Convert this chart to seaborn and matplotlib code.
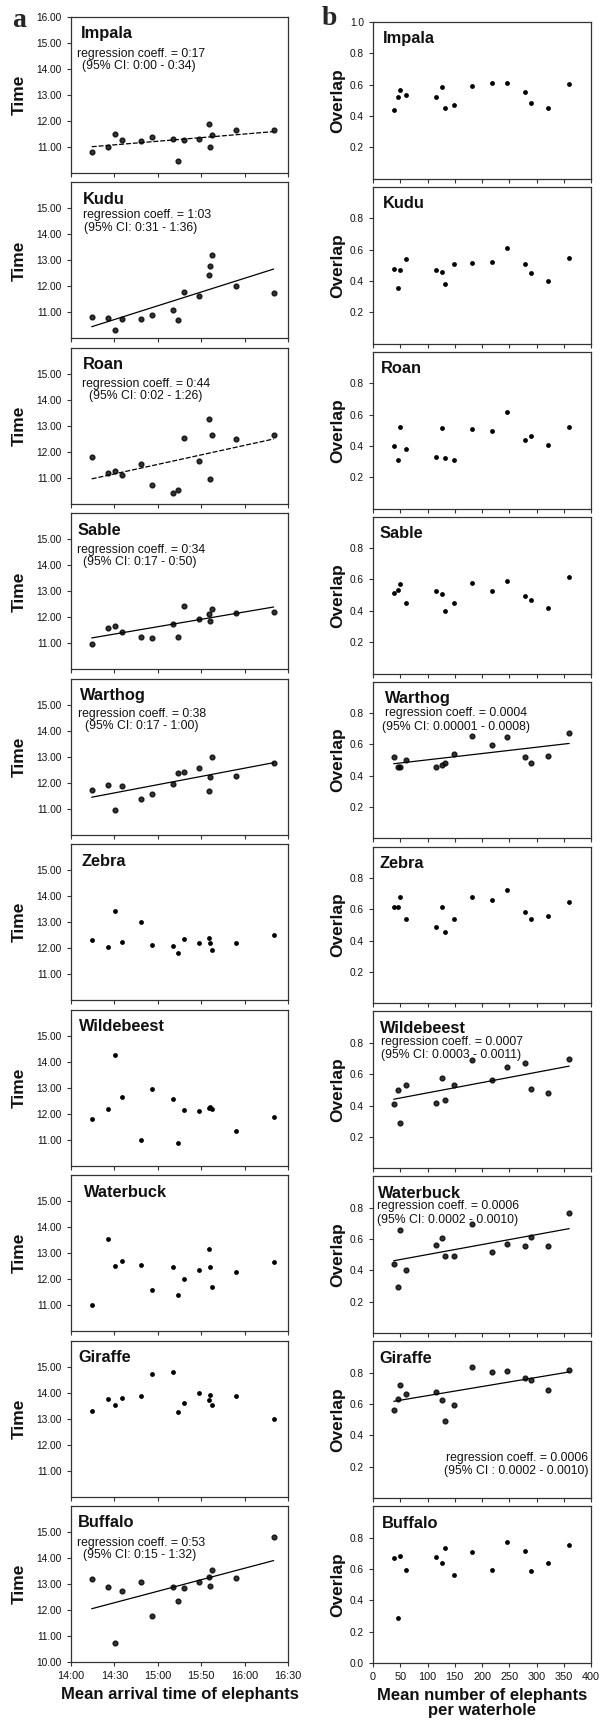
"""Arrival time and overlap of ten ungulate species vs elephant activity at waterholes."""
import matplotlib
matplotlib.use("Agg")

import matplotlib.pyplot as plt
import pandas as pd
import seaborn as sns

SPECIES = ["Impala", "Kudu", "Roan", "Sable", "Warthog",
           "Zebra", "Wildebeest", "Waterbuck", "Giraffe", "Buffalo"]

# mean elephant arrival per waterhole, minutes after 14:00
ARRIVAL_MIN = [14.3, 25.3, 30.4, 35.3, 48.4, 56.2, 70.5, 74.2,
               78.3, 88.5, 95.2, 96.1, 97.5, 114.3, 140.1]
ARRIVAL_TICKS = [0, 30, 60, 90, 120, 150]
ARRIVAL_LABELS = ["14:00", "14:30", "15:00", "15:50", "16:00", "16:30"]

# mean number of elephants per waterhole (same waterholes, same order)
ELEPHANTS = [38, 45, 50, 60, 116, 126, 133, 148,
             182, 219, 246, 279, 290, 322, 360]

# panel a: mean arrival time of each species (hours)
impala_time = [10.80, 11.00, 11.48, 11.27, 11.22, 11.39, 11.29, 10.45,
               11.25, 11.29, 11.87, 10.99, 11.45, 11.66, 11.65]
kudu_time = [10.82, 10.77, 10.32, 10.73, 10.76, 10.90, 11.09, 10.69,
             11.78, 11.65, 12.43, 12.80, 13.22, 12.02, 11.75]
roan_time = [11.81, 11.19, 11.28, 11.10, 11.55, 10.72, 10.42, 10.53,
             12.55, 11.64, 13.28, 10.95, 12.63, 12.50, 12.63]
sable_time = [10.99, 11.58, 11.67, 11.44, 11.23, 11.19, 11.74, 11.23,
              12.44, 11.94, 12.13, 11.86, 12.31, 12.17, 12.22]
warthog_time = [11.73, 11.90, 10.97, 11.88, 11.37, 11.56, 11.94, 12.36,
                12.43, 12.57, 11.68, 12.24, 13.00, 12.25, 12.76]
zebra_time = [12.31, 12.06, 13.44, 12.22, 13.00, 12.13, 12.08, 11.83,
              12.37, 12.21, 12.38, 12.21, 11.95, 12.21, 12.50]
wildebeest_time = [11.81, 12.18, 14.26, 12.63, 10.97, 12.95, 12.56, 10.86,
                   12.13, 12.09, 12.22, 12.24, 12.18, 11.33, 11.86]
waterbuck_time = [10.99, 13.55, 12.51, 12.70, 12.56, 11.57, 12.46, 11.38,
                  12.01, 12.34, 13.17, 12.46, 11.68, 12.28, 12.67]
giraffe_time = [13.29, 13.75, 13.54, 13.79, 13.85, 14.70, 14.81, 13.24,
                13.60, 13.97, 13.71, 13.92, 13.54, 13.86, 12.99]
buffalo_time = [13.21, 12.88, 10.72, 12.74, 13.06, 11.77, 12.89, 12.33,
                12.84, 13.06, 13.28, 12.91, 13.53, 13.25, 14.80]

# panel b: temporal overlap with elephants
impala_overlap = [0.439, 0.524, 0.566, 0.536, 0.519, 0.587, 0.449, 0.469,
                  0.589, 0.608, 0.608, 0.555, 0.483, 0.449, 0.604]
kudu_overlap = [0.477, 0.354, 0.473, 0.543, 0.469, 0.460, 0.382, 0.509,
                0.515, 0.519, 0.611, 0.509, 0.452, 0.403, 0.549]
roan_overlap = [0.398, 0.309, 0.522, 0.377, 0.328, 0.512, 0.324, 0.312,
                0.505, 0.493, 0.619, 0.440, 0.461, 0.408, 0.518]
sable_overlap = [0.512, 0.535, 0.571, 0.451, 0.526, 0.507, 0.400, 0.451,
                 0.577, 0.528, 0.592, 0.493, 0.469, 0.419, 0.615]
warthog_overlap = [0.520, 0.455, 0.457, 0.499, 0.455, 0.467, 0.480, 0.541,
                   0.653, 0.594, 0.648, 0.518, 0.478, 0.528, 0.674]
zebra_overlap = [0.613, 0.617, 0.678, 0.541, 0.488, 0.617, 0.457, 0.541,
                 0.680, 0.659, 0.724, 0.583, 0.535, 0.558, 0.644]
wildebeest_overlap = [0.411, 0.501, 0.288, 0.531, 0.417, 0.573, 0.436, 0.531,
                      0.693, 0.566, 0.644, 0.672, 0.507, 0.480, 0.695]
waterbuck_overlap = [0.442, 0.297, 0.661, 0.402, 0.560, 0.606, 0.493, 0.493,
                     0.695, 0.516, 0.571, 0.558, 0.615, 0.554, 0.768]
giraffe_overlap = [0.564, 0.629, 0.720, 0.665, 0.678, 0.625, 0.493, 0.596,
                   0.836, 0.802, 0.811, 0.766, 0.754, 0.691, 0.819]
buffalo_overlap = [0.670, 0.287, 0.682, 0.596, 0.678, 0.636, 0.735, 0.562,
                   0.710, 0.592, 0.771, 0.714, 0.589, 0.638, 0.750]

TIME = dict(zip(SPECIES, [impala_time, kudu_time, roan_time, sable_time,
                          warthog_time, zebra_time, wildebeest_time,
                          waterbuck_time, giraffe_time, buffalo_time]))
OVERLAP = dict(zip(SPECIES, [impala_overlap, kudu_overlap, roan_overlap,
                             sable_overlap, warthog_overlap, zebra_overlap,
                             wildebeest_overlap, waterbuck_overlap,
                             giraffe_overlap, buffalo_overlap]))

# significant regressions: (coefficient, 95% CI)
TIME_REG = {
    "Impala": ("0:17", "0:00 - 0:34"),
    "Kudu": ("1:03", "0:31 - 1:36"),
    "Roan": ("0:44", "0:02 - 1:26"),
    "Sable": ("0:34", "0:17 - 0:50"),
    "Warthog": ("0:38", "0:17 - 1:00"),
    "Buffalo": ("0:53", "0:15 - 1:32"),
}
TIME_DASHED = ["Impala", "Roan"]
OVERLAP_REG = {
    "Warthog": ("0.0004", "0.00001 - 0.0008"),
    "Wildebeest": ("0.0007", "0.0003 - 0.0011"),
    "Waterbuck": ("0.0006", "0.0002 - 0.0010"),
    "Giraffe": ("0.0006", "0.0002 - 0.0010"),
}

# layout: species-name offsets from the left spine (axes fraction)
TITLE_X_LEFT = [0.046, 0.055, 0.055, 0.032, 0.041, 0.050, 0.037, 0.060, 0.032, 0.032]
TITLE_X_RIGHT = [0.046, 0.046, 0.037, 0.032, 0.055, 0.032, 0.032, 0.023, 0.028, 0.041]

# annotation placement (axes fraction): x line1, x line2, y line1, y line2
TIME_NOTE_POS = {
    "Impala": (0.028, 0.050, 0.762, 0.685),
    "Kudu": (0.055, 0.058, 0.790, 0.708),
    "Roan": (0.050, 0.083, 0.770, 0.690),
    "Sable": (0.028, 0.055, 0.765, 0.688),
    "Warthog": (0.032, 0.065, 0.775, 0.695),
    "Buffalo": (0.028, 0.055, 0.765, 0.688),
}
OVERLAP_NOTE_POS = {
    "Warthog": (0.055, 0.041, 0.800, 0.712),
    "Wildebeest": (0.037, 0.037, 0.805, 0.725),
    "Waterbuck": (0.018, 0.018, 0.812, 0.725),
}

INK = "#111111"
NOTE_SIZE = 8.8
DOT = dict(s=12, color="black", linewidth=0)
REG_DOT = dict(s=12, color="black")

sns.set_style("ticks")
plt.rcParams["font.family"] = ["Liberation Sans", "DejaVu Sans"]
plt.rcParams.update({
    "axes.edgecolor": "#333333",
    "axes.linewidth": 0.9,
    "xtick.color": "#333333",
    "ytick.color": "#333333",
    "xtick.labelcolor": INK,
    "ytick.labelcolor": INK,
    "xtick.major.size": 3,
    "ytick.major.size": 3,
    "xtick.major.width": 0.8,
    "ytick.major.width": 0.8,
    "xtick.direction": "out",
    "ytick.direction": "out",
})


def note(ax, x, y, text, ha="left"):
    ax.text(x, y, text, transform=ax.transAxes, fontsize=NOTE_SIZE,
            color=INK, va="center", ha=ha)


W, H = 600, 1729
fig = plt.figure(figsize=(W / 100, H / 100), dpi=100)
gs_l = fig.add_gridspec(10, 1, left=71 / W, right=288 / W,
                        top=1 - 17 / H, bottom=1 - 1662 / H, hspace=0.061)
gs_r = fig.add_gridspec(10, 1, left=373 / W, right=591 / W,
                        top=1 - 22 / H, bottom=1 - 1663 / H, hspace=0.052)

n = len(SPECIES)
for i, sp in enumerate(SPECIES):
    last = i == n - 1

    # ---- panel a: arrival time
    ax = fig.add_subplot(gs_l[i])
    df = pd.DataFrame({"arrival": ARRIVAL_MIN, "time": TIME[sp]})
    if sp in TIME_REG:
        ls = (0, (4, 1.5)) if sp in TIME_DASHED else "-"
        sns.regplot(data=df, x="arrival", y="time", ax=ax, ci=None,
                    scatter_kws=REG_DOT,
                    line_kws=dict(color="black", lw=0.9, ls=ls))
        coef, ci = TIME_REG[sp]
        x1, x2, y1, y2 = TIME_NOTE_POS[sp]
        note(ax, x1, y1, f"regression coeff. = {coef}")
        note(ax, x2, y2, f"(95% CI: {ci})")
    else:
        sns.scatterplot(data=df, x="arrival", y="time", ax=ax, **DOT)
    ax.set_xlim(0, 150)
    ax.set_ylim(10, 16)
    ax.set_xticks(ARRIVAL_TICKS)
    if i == 0:
        yt = [11, 12, 13, 14, 15, 16]
    elif last:
        yt = [10, 11, 12, 13, 14, 15]
    else:
        yt = [11, 12, 13, 14, 15]
    ax.set_yticks(yt)
    ax.set_yticklabels([f"{v:.2f}" for v in yt], fontsize=7.3)
    if last:
        ax.set_xticklabels(ARRIVAL_LABELS, fontsize=7.8)
        ax.set_xlabel("Mean arrival time of elephants", fontsize=12,
                      fontweight="bold", color=INK, labelpad=4)
    else:
        ax.tick_params(axis="x", labelbottom=False)
        ax.set_xlabel("")
    ax.set_ylabel("Time", fontsize=12.5, fontweight="bold", color=INK)
    ax.yaxis.set_label_coords(-0.205, 0.5)
    ax.text(TITLE_X_LEFT[i], 0.94, sp, transform=ax.transAxes, fontsize=11.8,
            fontweight="bold", color=INK, va="top", ha="left")

    # ---- panel b: overlap
    ax = fig.add_subplot(gs_r[i])
    df = pd.DataFrame({"elephants": ELEPHANTS, "overlap": OVERLAP[sp]})
    if sp in OVERLAP_REG:
        sns.regplot(data=df, x="elephants", y="overlap", ax=ax, ci=None,
                    scatter_kws=REG_DOT,
                    line_kws=dict(color="black", lw=0.9))
        coef, ci = OVERLAP_REG[sp]
        if sp == "Giraffe":
            note(ax, 0.985, 0.255, f"regression coeff. = {coef}", ha="right")
            note(ax, 0.988, 0.175, f"(95% CI : {ci})", ha="right")
        else:
            x1, x2, y1, y2 = OVERLAP_NOTE_POS[sp]
            note(ax, x1, y1, f"regression coeff. = {coef}")
            note(ax, x2, y2, f"(95% CI: {ci})")
    else:
        sns.scatterplot(data=df, x="elephants", y="overlap", ax=ax, **DOT)
    ax.set_xlim(0, 400)
    ax.set_ylim(0, 1)
    ax.set_xticks(range(0, 401, 50))
    if i == 0:
        yt = [0.2, 0.4, 0.6, 0.8, 1.0]
    elif last:
        yt = [0.0, 0.2, 0.4, 0.6, 0.8]
    else:
        yt = [0.2, 0.4, 0.6, 0.8]
    ax.set_yticks(yt)
    ax.set_yticklabels([f"{v:.1f}" for v in yt], fontsize=7.3)
    if last:
        ax.set_xticklabels([str(v) for v in range(0, 401, 50)], fontsize=7.8)
        ax.set_xlabel("Mean number of elephants\nper waterhole", fontsize=12,
                      fontweight="bold", color=INK, labelpad=4,
                      linespacing=1.05)
    else:
        ax.tick_params(axis="x", labelbottom=False)
        ax.set_xlabel("")
    ax.set_ylabel("Overlap", fontsize=12.5, fontweight="bold", color=INK)
    ax.yaxis.set_label_coords(-0.125, 0.5)
    ax.text(TITLE_X_RIGHT[i], 0.94, sp, transform=ax.transAxes, fontsize=11.8,
            fontweight="bold", color=INK, va="top", ha="left")

# panel letters
fig.text(12 / W, 1 - 27 / H, "a", family=["Liberation Serif", "DejaVu Serif"],
         fontsize=20, fontweight="bold", va="baseline", ha="left")
fig.text(322 / W, 1 - 25 / H, "b", family=["Liberation Serif", "DejaVu Serif"],
         fontsize=20, fontweight="bold", va="baseline", ha="left")

fig.savefig("out.png", dpi=100)
